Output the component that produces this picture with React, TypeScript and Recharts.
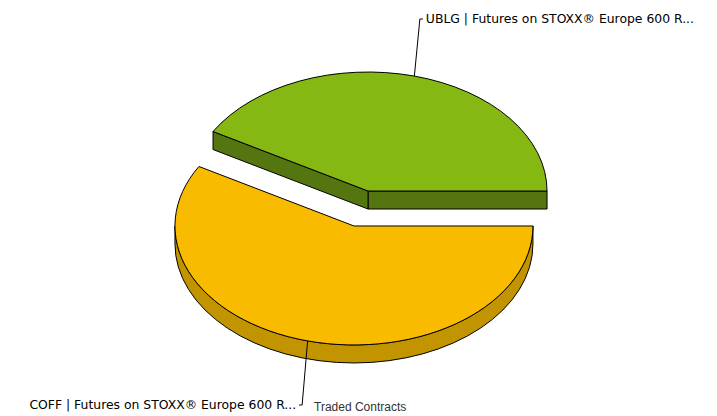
import React from 'react'
import { PieChart, Pie } from 'recharts'

const names = [
  'UBLG | Futures on STOXX® Europe 600 R...',
  'COFF | Futures on STOXX® Europe 600 R...',
]
const tradedContracts = [5, 7]
const fills = ['#86B814', '#F8BB00']
const wallFills = ['#547510', '#C29400']
const legendTitle = 'Traded Contracts'

const data = names.map((name, i) => ({
  name,
  value: tradedContracts[i],
  fill: fills[i],
  wall: wallFills[i],
}))

const RAD = Math.PI / 180
const SQUASH = 119 / 179 // tilt of the pie, ry / rx
const DEPTH = 18
const EXPLODE = 0.152 // share of the radius each slice is pulled out

// point on the tilted slice edge for a pie angle
const edge = (x: number, y: number, r: number, angle: number) => [
  x + r * Math.cos(angle * RAD),
  y - r * SQUASH * Math.sin(angle * RAD),
]

const sliceCenter = (cx: number, cy: number, r: number, midAngle: number) =>
  edge(cx, cy, r * EXPLODE, midAngle)

function Slice3D(props: any) {
  const { cx, cy, outerRadius: r, startAngle: s, endAngle: e, midAngle, fill, payload } = props
  const [x, y] = sliceCenter(cx, cy, r, midAngle)
  const ry = r * SQUASH
  const [sx, sy] = edge(x, y, r, s)
  const [ex, ey] = edge(x, y, r, e)
  const large = e - s > 180 ? 1 : 0
  const common = { stroke: '#000', strokeWidth: 1, strokeLinejoin: 'round' as const }

  const wallFrom = Math.max(s, 180)
  const wallTo = Math.min(e, 360)
  let outerWall = null
  if (wallTo > wallFrom) {
    const [ax, ay] = edge(x, y, r, wallFrom)
    const [bx, by] = edge(x, y, r, wallTo)
    outerWall = (
      <path
        d={`M${ax},${ay} A${r},${ry} 0 0 0 ${bx},${by} L${bx},${by + DEPTH} A${r},${ry} 0 0 1 ${ax},${ay + DEPTH} Z`}
        fill={payload.wall}
        {...common}
      />
    )
  }

  // the cut faces only show when they turn towards the viewer
  const showStart = Math.sin((s - 90) * RAD) < 0
  const showEnd = Math.sin((e + 90) * RAD) < 0
  const cutFace = (px: number, py: number) => (
    <path
      d={`M${x},${y} L${px},${py} L${px},${py + DEPTH} L${x},${y + DEPTH} Z`}
      fill={payload.wall}
      {...common}
    />
  )

  return (
    <g>
      {showStart && cutFace(sx, sy)}
      {showEnd && cutFace(ex, ey)}
      {outerWall}
      <path
        d={`M${x},${y} L${sx},${sy} A${r},${ry} 0 ${large} 0 ${ex},${ey} Z`}
        fill={fill}
        {...common}
      />
    </g>
  )
}

function SliceLabel(props: any) {
  const { cx, cy, outerRadius: r, midAngle, name } = props
  const [x, y] = sliceCenter(cx, cy, r, midAngle)
  const [px, py] = edge(x, y, r, midAngle)
  const up = py < cy
  const elbowY = up ? 19 : 405
  const elbowX = px + (up ? 5.5 : -5.5)
  const endX = elbowX + (up ? 3 : -3)
  return (
    <g>
      <path d={`M${px},${py} L${elbowX},${elbowY} L${endX},${elbowY}`} fill="none" stroke="#000" strokeWidth={1} />
      <text
        x={endX + (up ? 3 : -3)}
        y={elbowY}
        dy="0.32em"
        textAnchor={up ? 'start' : 'end'}
        fontFamily="DejaVu Sans"
        fontSize={12.4}
        fill="#000"
      >
        {name}
      </text>
    </g>
  )
}

export default function App() {
  return (
    <div style={{ position: 'absolute', left: 0, top: 0, width: 717, height: 416 }}>
      <PieChart width={717} height={416} margin={{ top: 0, right: 0, bottom: 0, left: 0 }}>
        <Pie
          data={data}
          dataKey="value"
          nameKey="name"
          cx={361}
          cy={208.5}
          innerRadius={0}
          outerRadius={179}
          startAngle={0}
          endAngle={360}
          paddingAngle={0}
          isAnimationActive={false}
          shape={Slice3D}
          inactiveShape={Slice3D}
          activeShape={Slice3D}
          label={SliceLabel}
          labelLine={false}
        />
        <text x={314} y={411} fontFamily="Liberation Sans" fontSize={12} fill="#333">
          {legendTitle}
        </text>
      </PieChart>
    </div>
  )
}
